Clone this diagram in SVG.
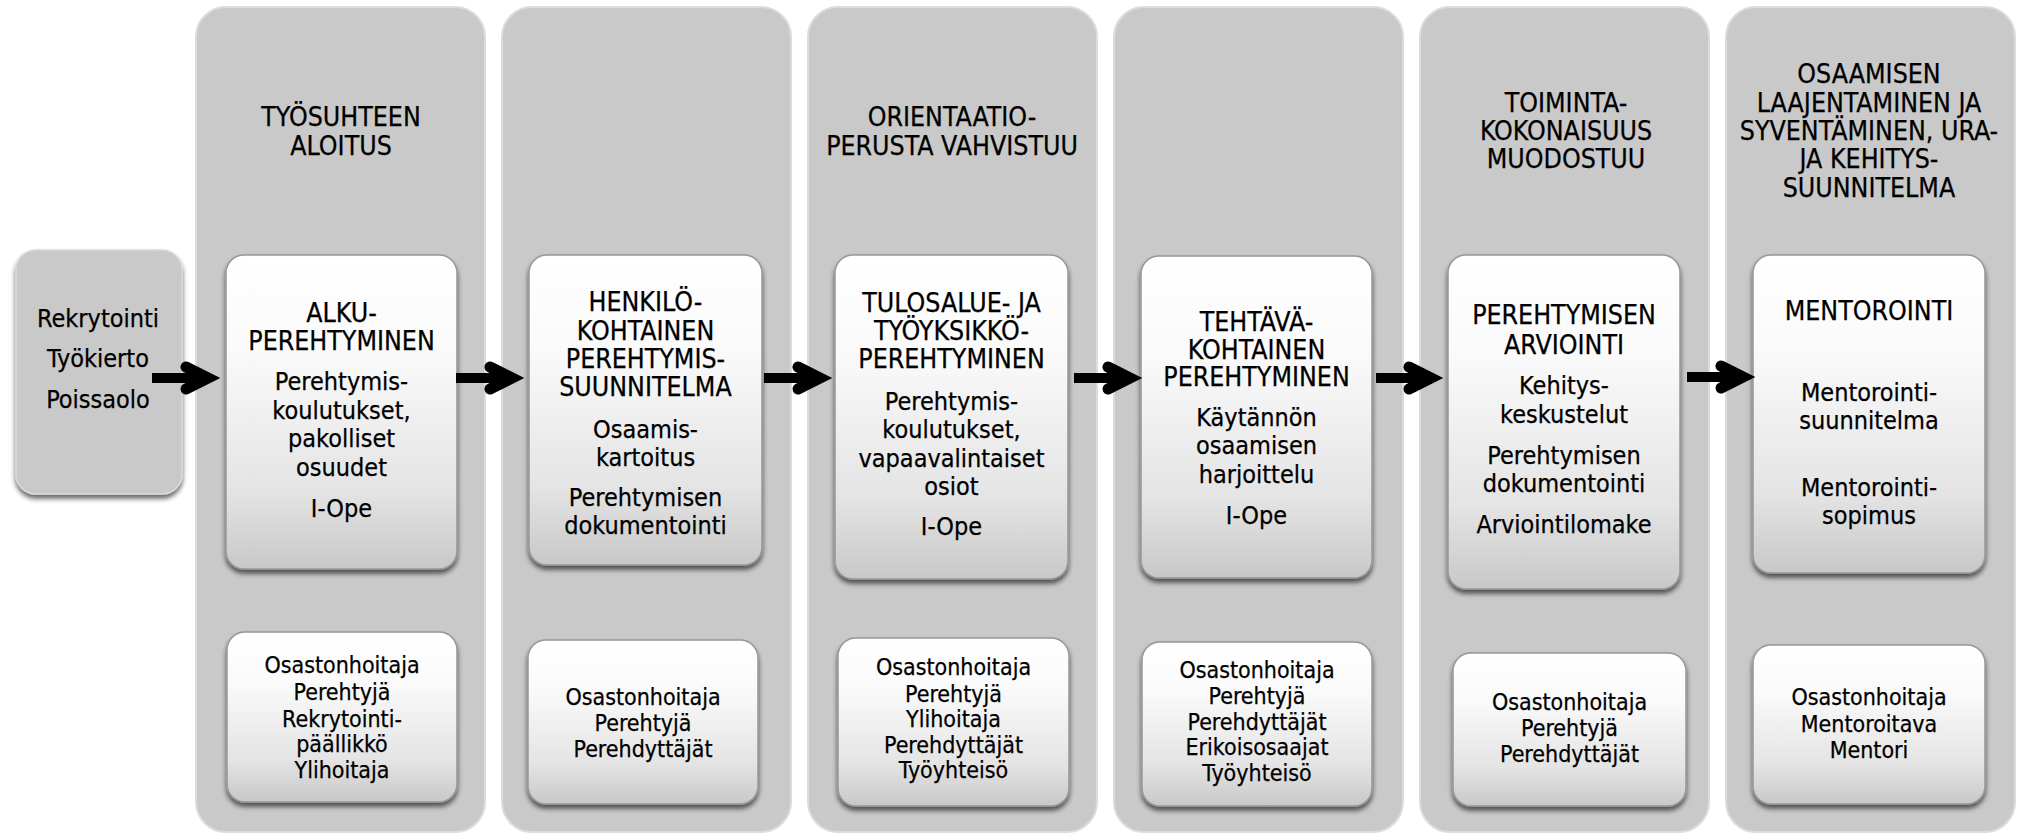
<svg xmlns="http://www.w3.org/2000/svg" width="2024" height="834" viewBox="0 0 2024 834">
<style>
.col{fill:#c9c9c9;stroke:#dcdcdc;stroke-width:2}
.src{fill:#c9c9c9;stroke:#d8d8d8;stroke-width:1.5;filter:url(#sh)}
.box{fill:url(#g);stroke:#979797;stroke-width:1.5;filter:url(#sh)}
.t{font-family:"DejaVu Sans Condensed","DejaVu Sans",sans-serif;font-stretch:condensed;font-size:25px;text-anchor:middle;fill:#000;stroke:#000;stroke-width:0.25}
.s{font-size:23px}
.u{font-size:26.5px}
.arr{fill:none;stroke:#000;stroke-width:10;marker-end:url(#ah)}
</style>
<defs>
<linearGradient id="g" x1="0" y1="0" x2="0" y2="1">
<stop offset="0" stop-color="#ffffff"/>
<stop offset="0.3" stop-color="#fafafa"/>
<stop offset="0.75" stop-color="#e4e4e4"/>
<stop offset="1" stop-color="#c8c8c8"/>
</linearGradient>
<filter id="sh" x="-10%" y="-10%" width="120%" height="125%">
<feGaussianBlur in="SourceAlpha" stdDeviation="2.5"/>
<feOffset dy="4"/>
<feComponentTransfer><feFuncA type="linear" slope="0.6"/></feComponentTransfer>
<feMerge><feMergeNode/><feMergeNode in="SourceGraphic"/></feMerge>
</filter>
<marker id="ah" markerUnits="userSpaceOnUse" viewBox="0 0 40 40" markerWidth="40" markerHeight="40" refX="30" refY="20" orient="auto" overflow="visible">
<polyline points="8,9 30,20 8,31" fill="none" stroke="#000" stroke-width="11" stroke-linecap="round" stroke-linejoin="miter"/>
</marker>
</defs>
<rect width="2024" height="834" fill="#ffffff"/>

<g id="col1"><rect class="col" x="196" y="7" width="289" height="825" rx="30"/>
<text class="t u"><tspan x="341" y="126">TYÖSUHTEEN</tspan><tspan x="341" y="155">ALOITUS</tspan></text></g>
<g id="col2"><rect class="col" x="502" y="7" width="289" height="825" rx="30"/></g>
<g id="col3"><rect class="col" x="808" y="7" width="289" height="825" rx="30"/>
<text class="t u"><tspan x="952" y="126">ORIENTAATIO-</tspan><tspan x="952" y="155">PERUSTA VAHVISTUU</tspan></text></g>
<g id="col4"><rect class="col" x="1114" y="7" width="289" height="825" rx="30"/></g>
<g id="col5"><rect class="col" x="1420" y="7" width="289" height="825" rx="30"/>
<text class="t u"><tspan x="1566" y="112">TOIMINTA-</tspan><tspan x="1566" y="140">KOKONAISUUS</tspan><tspan x="1566" y="168">MUODOSTUU</tspan></text></g>
<g id="col6"><rect class="col" x="1726" y="7" width="289" height="825" rx="30"/>
<text class="t u"><tspan x="1869" y="83">OSAAMISEN</tspan><tspan x="1869" y="112">LAAJENTAMINEN JA</tspan><tspan x="1869" y="140">SYVENTÄMINEN, URA-</tspan><tspan x="1869" y="168">JA KEHITYS-</tspan><tspan x="1869" y="197">SUUNNITELMA</tspan></text></g>

<g id="source"><rect class="src" x="16" y="250" width="166" height="244" rx="20"/>
<text class="t"><tspan x="98" y="327">Rekrytointi</tspan><tspan x="98" y="367">Työkierto</tspan><tspan x="98" y="408">Poissaolo</tspan></text></g>

<g id="alku"><rect class="box" x="226" y="255" width="231" height="314" rx="18"/>
<text class="t"><tspan class="u" x="341.5" y="322">ALKU-</tspan><tspan class="u" x="341.5" y="350">PEREHTYMINEN</tspan><tspan x="341.5" y="390">Perehtymis-</tspan><tspan x="341.5" y="419">koulutukset,</tspan><tspan x="341.5" y="447">pakolliset</tspan><tspan x="341.5" y="476">osuudet</tspan><tspan x="341.5" y="517">I-Ope</tspan></text></g>
<g id="henkilo"><rect class="box" x="529" y="255" width="233" height="310" rx="18"/>
<text class="t"><tspan class="u" x="645.5" y="311">HENKILÖ-</tspan><tspan class="u" x="645.5" y="340">KOHTAINEN</tspan><tspan class="u" x="645.5" y="368">PEREHTYMIS-</tspan><tspan class="u" x="645.5" y="396">SUUNNITELMA</tspan><tspan x="645.5" y="438">Osaamis-</tspan><tspan x="645.5" y="466">kartoitus</tspan><tspan x="645.5" y="506">Perehtymisen</tspan><tspan x="645.5" y="534">dokumentointi</tspan></text></g>
<g id="tulosalue"><rect class="box" x="835" y="255" width="233" height="324" rx="18"/>
<text class="t"><tspan class="u" x="951.5" y="312">TULOSALUE- JA</tspan><tspan class="u" x="951.5" y="340">TYÖYKSIKKÖ-</tspan><tspan class="u" x="951.5" y="368">PEREHTYMINEN</tspan><tspan x="951.5" y="410">Perehtymis-</tspan><tspan x="951.5" y="438">koulutukset,</tspan><tspan x="951.5" y="467">vapaavalintaiset</tspan><tspan x="951.5" y="495">osiot</tspan><tspan x="951.5" y="535">I-Ope</tspan></text></g>
<g id="tehtava"><rect class="box" x="1141" y="256" width="231" height="322" rx="18"/>
<text class="t"><tspan class="u" x="1256.5" y="331">TEHTÄVÄ-</tspan><tspan class="u" x="1256.5" y="359">KOHTAINEN</tspan><tspan class="u" x="1256.5" y="386">PEREHTYMINEN</tspan><tspan x="1256.5" y="426">Käytännön</tspan><tspan x="1256.5" y="454">osaamisen</tspan><tspan x="1256.5" y="483">harjoittelu</tspan><tspan x="1256.5" y="524">I-Ope</tspan></text></g>
<g id="arviointi"><rect class="box" x="1448" y="255" width="232" height="334" rx="18"/>
<text class="t"><tspan class="u" x="1564" y="324">PEREHTYMISEN</tspan><tspan class="u" x="1564" y="354">ARVIOINTI</tspan><tspan x="1564" y="394">Kehitys-</tspan><tspan x="1564" y="423">keskustelut</tspan><tspan x="1564" y="464">Perehtymisen</tspan><tspan x="1564" y="492">dokumentointi</tspan><tspan x="1564" y="533">Arviointilomake</tspan></text></g>
<g id="mentorointi"><rect class="box" x="1753" y="255" width="232" height="318" rx="18"/>
<text class="t"><tspan class="u" x="1869" y="320">MENTOROINTI</tspan><tspan x="1869" y="401">Mentorointi-</tspan><tspan x="1869" y="429">suunnitelma</tspan><tspan x="1869" y="496">Mentorointi-</tspan><tspan x="1869" y="524">sopimus</tspan></text></g>

<g id="roles1"><rect class="box" x="227" y="632" width="230" height="170" rx="18"/>
<text class="t s"><tspan x="342" y="673">Osastonhoitaja</tspan><tspan x="342" y="700">Perehtyjä</tspan><tspan x="342" y="727">Rekrytointi-</tspan><tspan x="342" y="752">päällikkö</tspan><tspan x="342" y="778">Ylihoitaja</tspan></text></g>
<g id="roles2"><rect class="box" x="528" y="640" width="230" height="164" rx="18"/>
<text class="t s"><tspan x="643" y="705">Osastonhoitaja</tspan><tspan x="643" y="731">Perehtyjä</tspan><tspan x="643" y="757">Perehdyttäjät</tspan></text></g>
<g id="roles3"><rect class="box" x="838" y="638" width="231" height="168" rx="18"/>
<text class="t s"><tspan x="953.5" y="675">Osastonhoitaja</tspan><tspan x="953.5" y="702">Perehtyjä</tspan><tspan x="953.5" y="727">Ylihoitaja</tspan><tspan x="953.5" y="753">Perehdyttäjät</tspan><tspan x="953.5" y="778">Työyhteisö</tspan></text></g>
<g id="roles4"><rect class="box" x="1142" y="642" width="230" height="164" rx="18"/>
<text class="t s"><tspan x="1257" y="678">Osastonhoitaja</tspan><tspan x="1257" y="704">Perehtyjä</tspan><tspan x="1257" y="730">Perehdyttäjät</tspan><tspan x="1257" y="755">Erikoisosaajat</tspan><tspan x="1257" y="781">Työyhteisö</tspan></text></g>
<g id="roles5"><rect class="box" x="1453" y="653" width="233" height="153" rx="18"/>
<text class="t s"><tspan x="1569.5" y="710">Osastonhoitaja</tspan><tspan x="1569.5" y="736">Perehtyjä</tspan><tspan x="1569.5" y="762">Perehdyttäjät</tspan></text></g>
<g id="roles6"><rect class="box" x="1753" y="645" width="232" height="159" rx="18"/>
<text class="t s"><tspan x="1869" y="705">Osastonhoitaja</tspan><tspan x="1869" y="732">Mentoroitava</tspan><tspan x="1869" y="758">Mentori</tspan></text></g>

<g id="connectors">
<path class="arr" d="M152,378 H208"/>
<path class="arr" d="M456,378 H512"/>
<path class="arr" d="M764,378 H820"/>
<path class="arr" d="M1074,378 H1130"/>
<path class="arr" d="M1376,378 H1431"/>
<path class="arr" d="M1687,377 H1743"/>
</g>
</svg>
